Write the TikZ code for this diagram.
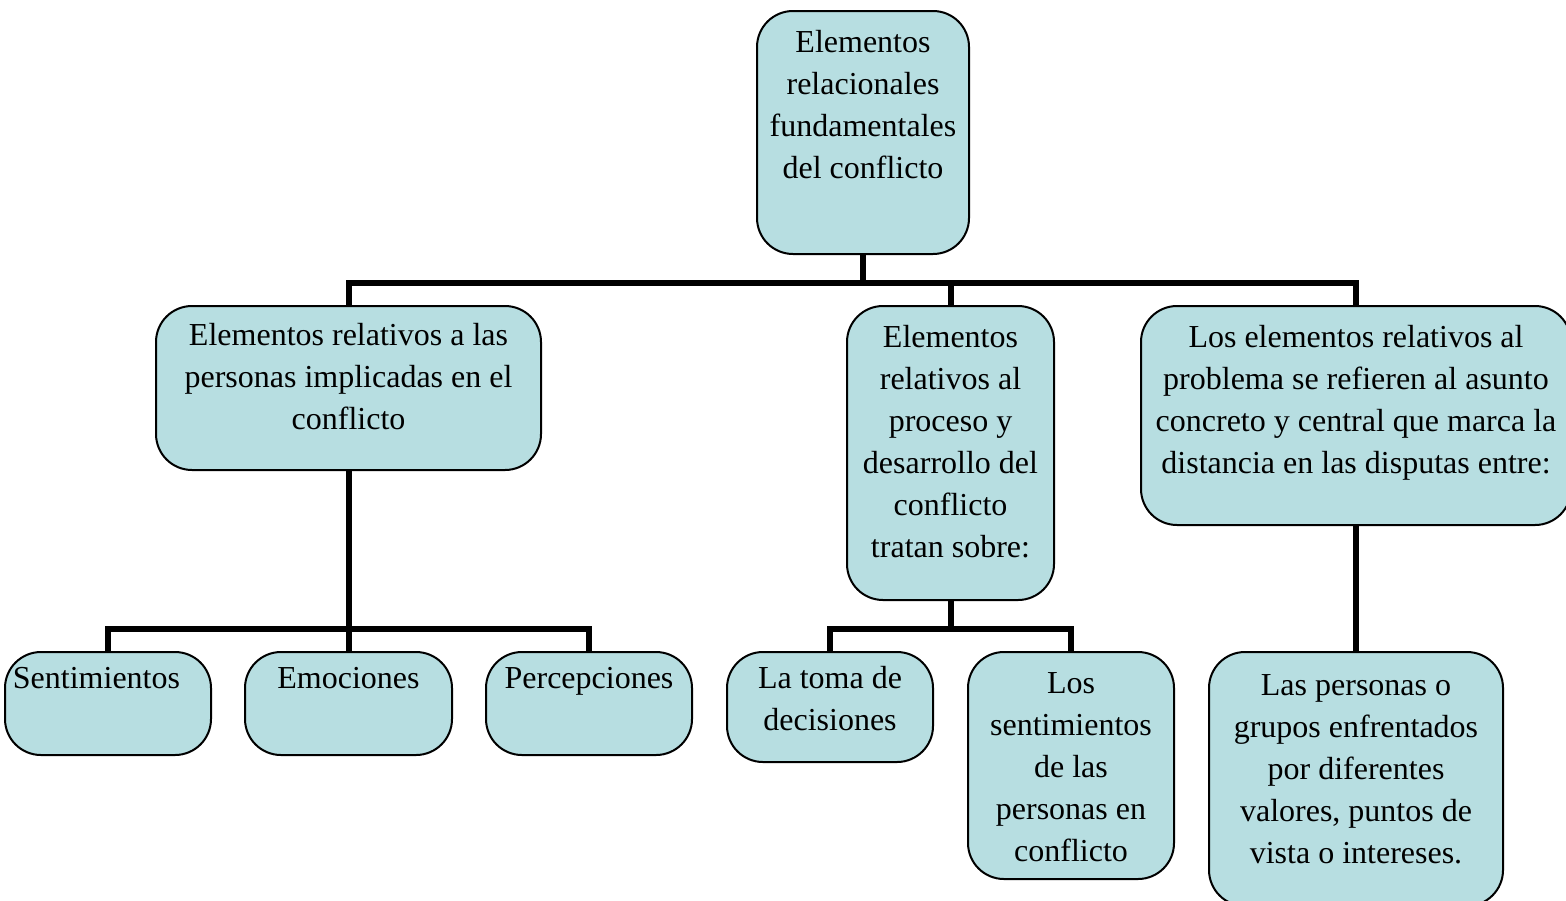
\documentclass[tikz,border=0pt]{standalone}
\usepackage{fontspec}
\setmainfont{Liberation Serif}
\definecolor{boxfill}{RGB}{183,222,225}
\newcommand{\boxtext}[4][6pt]{\parbox[t][#3][t]{#2}{\centering\vspace*{#1}\strut #4}}

\begin{document}
\begin{tikzpicture}[x=0.5pt, y=-0.5pt, font=\fontsize{16pt}{21pt}\selectfont,
  box/.style={draw, fill=boxfill, line width=1pt, rounded corners=18pt, inner sep=0pt, anchor=north west},
  link/.style={line width=3pt}]
\clip (0,0) rectangle (1566,900);
\node [box] (root) at (756,10) {\boxtext{106pt}{121.5pt}{Elementos\\relacionales\\fundamentales\\del conflicto}};
\node [box] (pers) at (155,305) {\boxtext[5pt]{192.5pt}{82pt}{Elementos relativos a las\\personas implicadas en el\\conflicto}};
\node [box] (proc) at (846,305) {\boxtext{103.5pt}{147pt}{Elementos\\relativos al\\proceso y\\desarrollo del\\conflicto\\tratan sobre:}};
\node [box] (prob) at (1140,305) {\boxtext{215pt}{109.5pt}{Los elementos relativos al\\problema se refieren al asunto\\concreto y central que marca la\\distancia en las disputas entre:}};
\node [box] (sent) at (4,651) {\boxtext[3.5pt]{103pt}{51.5pt}{Sentimientos\hspace*{11.5pt}}};
\node [box] (emoc) at (244,651) {\boxtext[3.5pt]{103.5pt}{51.5pt}{Emociones}};
\node [box] (perc) at (485,651) {\boxtext[3.5pt]{103pt}{51.5pt}{Percepciones}};
\node [box] (toma) at (726,651) {\boxtext[3.5pt]{103pt}{55pt}{La toma de\\decisiones}};
\node [box] (spers) at (967,651) {\boxtext{103pt}{113.5pt}{Los\\sentimientos\\de las\\personas en\\conflicto}};
\node [box] (grupos) at (1208,651) {\boxtext[7pt]{147pt}{127pt}{Las personas o\\grupos enfrentados\\por diferentes\\valores, puntos de\\vista o intereses.}};
% ramas
\draw [link] (root.south) -- ++(0,28) -| (pers.north);
\draw [link] (root.south) -- ++(0,28) -| (proc.north);
\draw [link] (root.south) -- ++(0,28) -| (prob.north);
\draw [link] (pers.south) -- ++(0,158) -| (sent.north);
\draw [link] (pers.south) -- (emoc.north);
\draw [link] (pers.south) -- ++(0,158) -| (perc.north);
\draw [link] (proc.south) -- ++(0,28) -| (toma.north);
\draw [link] (proc.south) -- ++(0,28) -| (spers.north);
\draw [link] (prob.south) -- (grupos.north);
\end{tikzpicture}
\end{document}
